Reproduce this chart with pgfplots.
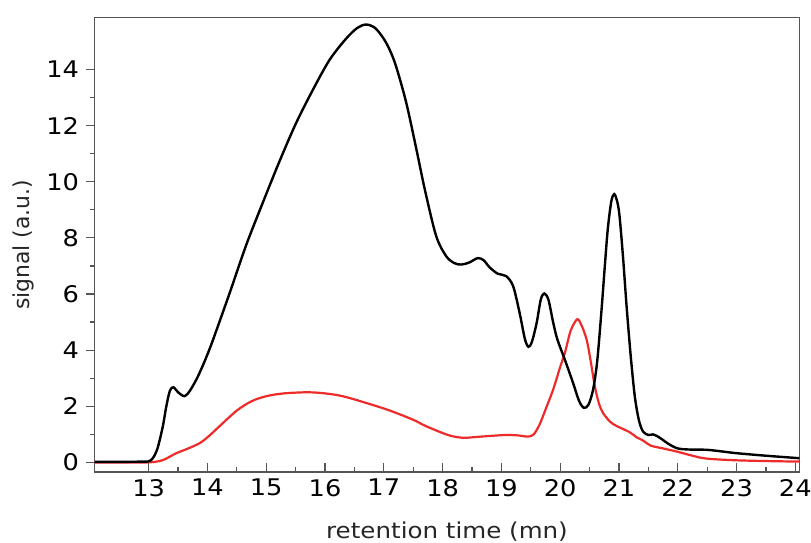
\documentclass[border=0pt]{standalone}
\usepackage{fontspec}
\setmainfont{DejaVu Sans}[FakeStretch=1.12]
\newfontfamily\ylabfont{DejaVu Sans}
\usepackage{pgfplots}
\pgfplotsset{compat=1.18}

\definecolor{framegray}{HTML}{555555}
\definecolor{redline}{HTML}{EE2A2A}

\pgfplotstableread{
x y
12.08 0.02
12.5 0.02
12.9 0.03
13.0 0.04
13.07 0.15
13.15 0.5
13.24 1.28
13.3 2.0
13.36 2.55
13.42 2.68
13.5 2.5
13.61 2.36
13.7 2.55
13.81 2.95
13.9 3.35
14.0 3.85
14.1 4.4
14.38 6.05
14.66 7.75
14.95 9.3
15.23 10.75
15.51 12.1
15.80 13.3
16.08 14.35
16.36 15.1
16.55 15.48
16.7 15.6
16.85 15.48
16.99 15.12
17.1 14.7
17.21 14.1
17.38 12.83
17.55 11.2
17.70 9.7
17.89 8.07
18.06 7.35
18.2 7.1
18.32 7.05
18.45 7.12
18.6 7.28
18.7 7.2
18.8 6.95
18.94 6.72
19.08 6.64
19.2 6.28
19.31 5.33
19.4 4.4
19.46 4.12
19.52 4.3
19.60 4.97
19.67 5.8
19.73 6.02
19.8 5.8
19.88 5.0
19.95 4.4
20.08 3.66
20.22 2.83
20.32 2.2
20.4 1.95
20.48 2.05
20.56 2.59
20.63 3.6
20.70 5.33
20.76 7.0
20.81 8.31
20.87 9.3
20.92 9.56
20.97 9.3
21.01 8.78
21.07 7.3
21.13 5.57
21.2 3.8
21.27 2.35
21.34 1.5
21.41 1.1
21.5 0.98
21.58 1.0
21.64 0.95
21.75 0.8
21.85 0.65
22.0 0.5
22.2 0.46
22.5 0.45
22.8 0.38
23.0 0.33
23.5 0.24
24.08 0.15
}\blackrun

\pgfplotstableread{
x y
12.08 0.0
12.9 0.0
13.1 0.02
13.25 0.09
13.47 0.33
13.64 0.47
13.87 0.69
14.03 0.95
14.2 1.28
14.5 1.85
14.75 2.18
15.0 2.36
15.3 2.46
15.7 2.5
16.0 2.46
16.3 2.36
16.7 2.12
17.1 1.85
17.5 1.52
17.71 1.3
18.06 1.0
18.25 0.9
18.4 0.88
18.65 0.92
19.08 0.98
19.3 0.96
19.45 0.92
19.55 1.0
19.65 1.35
19.75 1.88
19.88 2.59
20.0 3.4
20.08 3.90
20.18 4.7
20.29 5.1
20.36 4.9
20.45 4.38
20.52 3.6
20.59 2.71
20.66 2.1
20.73 1.76
20.85 1.45
20.96 1.3
21.18 1.08
21.3 0.9
21.41 0.78
21.54 0.6
21.75 0.5
22.0 0.38
22.25 0.24
22.48 0.14
22.95 0.08
23.5 0.05
24.08 0.03
}\redrun

\begin{document}
\begin{tikzpicture}
\useasboundingbox (0,0) rectangle (405.5bp,271.5bp);
\begin{axis}[
  at={(47.3bp,35.5bp)}, anchor=south west,
  scale only axis,
  width=352.4bp, height=227.25bp,
  xmin=12.08, xmax=24.07,
  ymin=-0.34, ymax=15.85,
  xtick={13,...,24},
  ytick={0,2,...,14},
  minor x tick num=1,
  minor y tick num=1,
  xtick pos=bottom, ytick pos=left,
  xtick align=inside, ytick align=outside,
  major tick length=4.3bp, minor tick length=2.3bp,
  axis line style={framegray, line width=0.6bp},
  every tick/.style={framegray, line width=0.6bp},
  /pgf/number format/assume math mode=true,
  ticklabel style={font=\fontsize{11.5}{13}\selectfont, text=black},
  xlabel={retention time (mn)},
  ylabel={\ylabfont signal (a.u.)},
  label style={font=\fontsize{11}{13}\selectfont, text=black!85},
  xlabel style={at={(axis description cs:0.5,-0.131)}, anchor=center},
  ylabel style={at={(axis description cs:-0.1007,0.5)}, anchor=center},
]
\addplot[redline, line width=1.1bp, smooth] table {\redrun};
\addplot[black, line width=1.2bp, smooth] table {\blackrun};
\end{axis}
\end{tikzpicture}
\end{document}
